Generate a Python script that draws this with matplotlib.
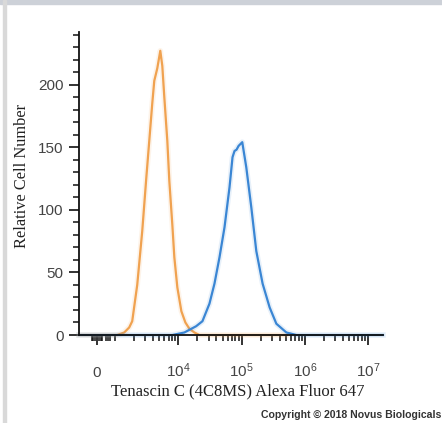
import matplotlib
matplotlib.use("Agg")
import matplotlib.pyplot as plt
from matplotlib.patches import Rectangle
import numpy as np

# Isotype / unstained control (orange) and Tenascin C stained cells (blue)
ctrl_x = [-1000, 1076, 1390, 1668, 1862, 2235, 2683, 3105, 3465, 3867, 4159,
          4642, 5179, 5572, 5995, 6690, 7197, 8032, 8642, 9641, 11160, 12915,
          14950, 17950, 21540, 518000]
ctrl_y = [0, 0, 2, 6, 11, 40, 83, 125, 155, 185, 203,
          213, 227, 215, 190, 155, 123, 88, 62, 38, 19, 10,
          5, 2, 0, 0]

tnc_x = [-1000, 8032, 12450, 19100, 24040, 31050, 37270, 44760, 53740, 64500,
         71970, 77430, 83280, 89650, 102600, 118750, 142600, 171200, 215400,
         278300, 355400, 512300, 738500, 1.73e7]
tnc_y = [0, 0, 2, 7, 11, 25, 41, 62, 86, 118,
         142, 147, 148, 151, 154, 134, 102, 67, 41,
         22, 9, 2, 0, 0]

y_major = [0, 50, 100, 150, 200]
y_minor = list(range(10, 250, 10))
x_major = [0, 1e4, 1e5, 1e6, 1e7]
x_labels = ["0", r"$\mathregular{10^{4}}$", r"$\mathregular{10^{5}}$",
            r"$\mathregular{10^{6}}$", r"$\mathregular{10^{7}}$"]

plt.rcParams["mathtext.fontset"] = "custom"
plt.rcParams["mathtext.rm"] = "Liberation Sans"

fig = plt.figure(figsize=(4.42, 4.23), dpi=100)
ax = fig.add_axes([79 / 442, 1 - 335 / 423, 304 / 442, 303 / 423])

for xs, ys, c in [(ctrl_x, ctrl_y, "#F0A250"), (tnc_x, tnc_y, "#3A86D4")]:
    ax.plot(xs, ys, color=c, lw=4, alpha=0.12, clip_on=False, solid_joinstyle="round")
    ax.plot(xs, ys, color=c, lw=1.6, clip_on=False, solid_joinstyle="round")

ax.set_xscale("symlog", linthresh=1000, linscale=0.286 * 0.9)
ax.set_xlim(-1000, 1.73e7)
ax.set_ylim(0, 242)

minors = list(range(-300, 0, 100)) + list(range(100, 400, 100)) + [500, 600, 700, 1000]
for k in range(3, 7):
    minors += [m * 10 ** k for m in range(2, 10)]
ax.set_xticks(x_major)
ax.set_xticklabels(x_labels)
ax.set_xticks(minors, minor=True)
ax.set_yticks(y_major)
ax.set_yticks(y_minor, minor=True)

for s in ["top", "right"]:
    ax.spines[s].set_visible(False)
for s in ["left", "bottom"]:
    ax.spines[s].set_linewidth(1.3)
    ax.spines[s].set_color("#111111")

ax.tick_params(axis="both", which="major", length=7, width=1.2, color="#111111",
               labelsize=11, labelcolor="#444444")
ax.tick_params(axis="both", which="minor", length=4, width=1.1, color="#111111")
ax.tick_params(axis="y", which="major", pad=4)
ax.tick_params(axis="x", which="major", pad=23)
for lbl in ax.get_xticklabels():
    lbl.set_fontfamily("Liberation Sans")
    lbl.set_va("baseline")
for lbl in ax.get_yticklabels():
    lbl.set_fontfamily("Liberation Sans")

fig.text(238 / 442, 1 - 391 / 423, "Tenascin C (4C8MS) Alexa Fluor 647",
         family="Liberation Serif", fontsize=12, color="#222222",
         ha="center", va="center")
fig.text(22 / 442, 1 - 176 / 423, "Relative Cell Number", rotation=90,
         family="Liberation Serif", fontsize=11.8, color="#222222",
         ha="center", va="center")
fig.text(441 / 442, 1 - 415 / 423, "Copyright \u00a9 2018 Novus Biologicals",
         family="Liberation Sans", weight="bold", fontsize=7.6, color="#333333",
         ha="right", va="center")

# screenshot frame
fig.patches.append(Rectangle((0, 1 - 4 / 423), 1, 4 / 423, transform=fig.transFigure,
                             color="#cdd1d8", zorder=0))
fig.patches.append(Rectangle((3 / 442, 0), 3 / 442, 1, transform=fig.transFigure,
                             color="#d9d9d9", zorder=0))

fig.savefig("out.png", dpi=100)
